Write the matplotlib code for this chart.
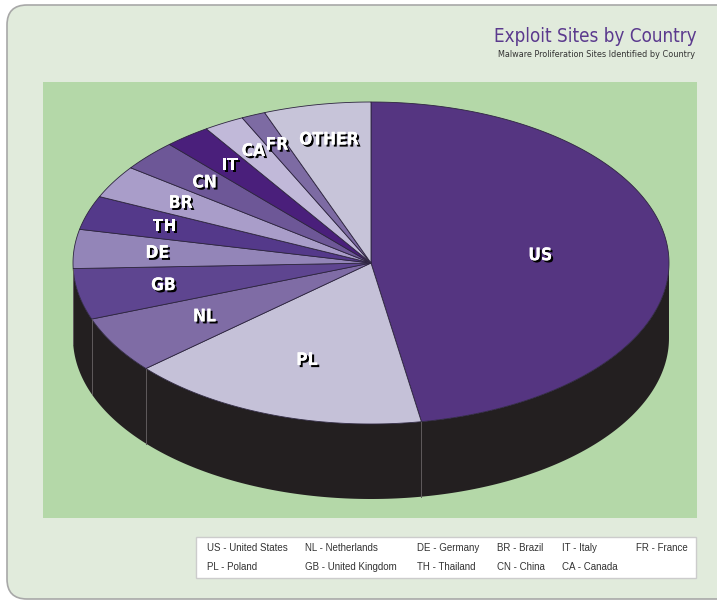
import numpy as np
import matplotlib
matplotlib.use('Agg')
import matplotlib.pyplot as plt
import matplotlib.patheffects as pe
from matplotlib.patches import Polygon, FancyBboxPatch, Rectangle

# share of exploit sites per country (percent)
countries = ['US', 'PL', 'NL', 'GB', 'DE', 'TH', 'BR', 'CN', 'IT', 'CA',
             'FR', 'OTHER']
shares = [47.2, 16.3, 5.7, 5.1, 3.9, 3.4, 3.3, 3.1, 2.5, 2.2, 1.3, 5.8]
legend_names = ['US - United States', 'PL - Poland',
                'NL - Netherlands', 'GB - United Kingdom',
                'DE - Germany', 'TH - Thailand',
                'BR - Brazil', 'CN - China',
                'IT - Italy', 'CA - Canada',
                'FR - France']

colors = ['#553581', '#c5c1d8', '#7f6ca5', '#5e4590', '#9385b8', '#54398a',
          '#a99dc9', '#6d5797', '#4a1f7b', '#c1b9d9', '#7d6ba3', '#c7c4d9']
label_frac = [0.57, 0.64, 0.65, 0.71, 0.72, 0.73, 0.74, 0.75, 0.77, 0.8,
              0.8, 0.78]

# pie geometry in pixels
cx, cy, rx, ry, depth = 371, 263, 298, 161, 75


def ellipse_pts(t0, t1, n=200, dy=0):
    t = np.radians(np.linspace(t0, t1, n))
    return np.column_stack([cx + rx * np.cos(t), cy - ry * np.sin(t) + dy])


fig = plt.figure(figsize=(7.17, 6.02), dpi=100)
ax = fig.add_axes([0, 0, 1, 1])
ax.set_xlim(0, 717)
ax.set_ylim(602, 0)
ax.axis('off')

# panel and plot area
ax.add_patch(FancyBboxPatch((7, 5), 740, 594,
                            boxstyle='round,pad=0,rounding_size=20',
                            fc='#e1ebdc', ec='#a8a8a8', lw=1.2))
ax.add_patch(Rectangle((43, 82), 654, 436, fc='#b4d8a8', ec='none'))

# side wall of the pie
top = ellipse_pts(-180, 0)
bottom = ellipse_pts(-180, 0, dy=depth)
ax.add_patch(Polygon(np.vstack([top, bottom[::-1]]), closed=True,
                     fc='#231f20', ec='none'))

fracs = np.array(shares) / np.sum(shares)
bounds = 90 - 360 * np.concatenate([[0], np.cumsum(fracs)])

for b in bounds:
    t = (b + 180) % 360 - 180
    if -180 < t < 0:
        x, y = ellipse_pts(t, t, 1)[0]
        ax.plot([x, x], [y, y + depth], color='#5f5a5c', lw=0.7)

# top face
for i, name in enumerate(countries):
    t0, t1 = bounds[i], bounds[i + 1]
    arc = ellipse_pts(t0, t1)
    ax.add_patch(Polygon(np.vstack([[cx, cy], arc]), closed=True,
                         fc=colors[i], ec='#2e2540', lw=0.6))
    tm = np.radians((t0 + t1) / 2)
    f = label_frac[i]
    ax.text(cx + f * rx * np.cos(tm), cy - f * ry * np.sin(tm), name,
            color='white', fontsize=12.5, fontweight='bold',
            family='DejaVu Sans', fontstretch='condensed',
            ha='center', va='center',
            path_effects=[pe.withSimplePatchShadow(offset=(1.5, -1.5),
                                                   shadow_rgbFace='black',
                                                   alpha=1),
                          pe.Normal()])

# titles
ax.text(697, 42, 'Exploit Sites by Country', color='#5b3a8e', fontsize=13.5,
        family='DejaVu Sans', fontstretch='condensed', ha='right',
        va='baseline')
ax.text(695, 57, 'Malware Proliferation Sites Identified by Country',
        color='#333333', fontsize=6.5, family='DejaVu Sans',
        fontstretch='condensed', ha='right', va='baseline')

# legend box
ax.add_patch(Rectangle((196, 537), 500, 41, fc='white', ec='#cccccc',
                       lw=1))
col_x = [207, 305, 417, 497, 562, 636]
for k, txt in enumerate(legend_names):
    ax.text(col_x[k // 2], 548 if k % 2 == 0 else 567, txt,
            color='#333333', fontsize=7, family='Liberation Sans',
            ha='left', va='center')

fig.savefig('out.png', dpi=100)
